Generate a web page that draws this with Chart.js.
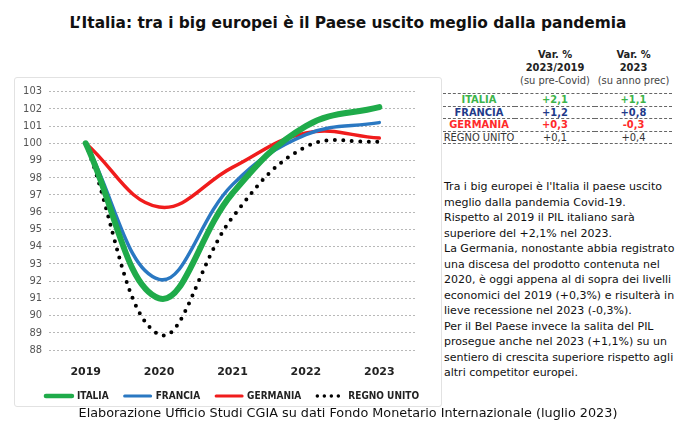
<!DOCTYPE html>
<html>
<head>
<meta charset="utf-8">
<script src="https://cdn.jsdelivr.net/npm/chart.js@4/dist/chart.umd.min.js"></script>
<style>
    html, body { margin: 0; padding: 0; background: #fff; }
    body { width: 696px; height: 446px; position: relative; overflow: hidden; font-family: "DejaVu Sans", sans-serif; }
    #title { position: absolute; left: 0; top: 14px; width: 696px; text-align: center; font-weight: bold; font-size: 15.4px; color: #111; }
    #chart-box { position: absolute; left: 14px; top: 77px; width: 428px; height: 330px; border: 1px solid #e2e2e2; border-radius: 3px; box-sizing: border-box; }
    #chart-box canvas { position: absolute; left: 0; top: 0; }
    #table { position: absolute; left: 443px; top: 48px; border-collapse: collapse; font-family: "DejaVu Sans Condensed", "DejaVu Sans", sans-serif; font-size: 11px; color: #222; }
    #table th { font-weight: bold; text-align: center; line-height: 13px; padding: 0 0 6px 0; }
    #table th span { font-weight: normal; color: #444; }
    #table td { text-align: center; padding: 0; line-height: 11.5px; border-bottom: 1px dashed #666; }
    #table tr.first td { border-top: 1px dashed #666; }
    #note { position: absolute; left: 444px; top: 179px; width: 252px; font-family: "DejaVu Sans", sans-serif; font-size: 11px; line-height: 15.5px; color: #111; white-space: nowrap; }
    #source { position: absolute; left: 0; top: 405px; width: 696px; text-align: center; font-size: 12.8px; color: #111; }
</style>
</head>
<body>
<div id="title">L’Italia: tra i big europei è il Paese uscito meglio dalla pandemia</div>
<div id="chart-box"><canvas id="gdpChart" width="428" height="333"></canvas></div>
<table id="table">
    <tr><th style="width:72px"></th><th style="width:80px">Var. %<br>2023/2019<br><span>(su pre-Covid)</span></th><th style="width:77px">Var. %<br>2023<br><span>(su anno prec)</span></th></tr>
    <tbody id="table-body"></tbody>
</table>
<div id="note">
Tra i big europei è l'Italia il paese uscito<br>
meglio dalla pandemia Covid-19.<br>
Rispetto al 2019 il PIL italiano sarà<br>
superiore del +2,1% nel 2023.<br>
La Germania, nonostante abbia registrato<br>
una discesa del prodotto contenuta nel<br>
2020, è oggi appena al di sopra dei livelli<br>
economici del 2019 (+0,3%) e risulterà in<br>
lieve recessione nel 2023 (-0,3%).<br>
Per il Bel Paese invece la salita del PIL<br>
prosegue anche nel 2023 (+1,1%) su un<br>
sentiero di crescita superiore rispetto agli<br>
altri competitor europei.
</div>
<div id="source">Elaborazione Ufficio Studi CGIA su dati Fondo Monetario Internazionale (luglio 2023)</div>

<script>
// Data (PIL, 2019 = 100)
const years = ['2019', '2020', '2021', '2022', '2023'];
const italia = [100, 91.0, 97.1, 101.0, 102.1];
const francia = [100, 92.1, 97.6, 100.5, 101.2];
const germania = [100, 96.3, 98.6, 100.6, 100.3];
const regnoUnito = [100, 88.9, 95.7, 99.8, 100.1];

// Side table
const countries = ['ITALIA', 'FRANCIA', 'GERMANIA', 'REGNO UNITO'];
const varPreCovid = ['+2,1', '+1,2', '+0,3', '+0,1'];
const varAnnoPrec = ['+1,1', '+0,8', '-0,3', '+0,4'];
const tableColors = ['#3cb44b', '#1f3a8a', '#ff2a2a', '#333'];

const tbody = document.getElementById('table-body');
tbody.innerHTML = countries.map((c, i) => `
    <tr class="${i === 0 ? 'first' : ''}" style="color:${tableColors[i]};font-weight:${i < 3 ? 'bold' : 'normal'}">
        <td>${c}</td><td>${varPreCovid[i]}</td><td>${varAnnoPrec[i]}</td>
    </tr>`).join('');

const legendWidths = [4.5, 3, 3, 3.5];
const defaultLabels = Chart.defaults.plugins.legend.labels.generateLabels;

const ctx = document.getElementById('gdpChart').getContext('2d');
new Chart(ctx, {
    type: 'line',
    data: {
        labels: years,
        datasets: [
            { label: 'ITALIA', data: italia, borderColor: '#1fab4a', backgroundColor: '#1fab4a', borderWidth: 6, borderCapStyle: 'round' },
            { label: 'FRANCIA', data: francia, borderColor: '#2a78c2', backgroundColor: '#2a78c2', borderWidth: 3.5, borderCapStyle: 'round' },
            { label: 'GERMANIA', data: germania, borderColor: '#f01c1c', backgroundColor: '#f01c1c', borderWidth: 3.5, borderCapStyle: 'round' },
            { label: 'REGNO UNITO', data: regnoUnito, borderColor: '#000', backgroundColor: '#000', borderWidth: 4, borderDash: [0, 8.5], borderCapStyle: 'round' }
        ]
    },
    options: {
        responsive: false,
        animation: false,
        elements: {
            point: { radius: 0 },
            line: { tension: 0.4 }
        },
        layout: { padding: { left: 0, right: 0, top: 6, bottom: 0 } },
        scales: {
            x: {
                offset: true,
                afterFit: s => { s.height = 25; },
                grid: { display: false, drawTicks: false },
                border: { display: false },
                ticks: { color: '#222', font: { family: 'DejaVu Sans', size: 11, weight: 'bold' }, padding: 16 }
            },
            y: {
                min: 88,
                max: 103,
                afterFit: s => { s.width = 34; },
                border: { display: false, dash: [2, 2] },
                grid: { color: '#b8b8b8', drawTicks: false },
                ticks: { stepSize: 1, autoSkip: false, color: '#555', font: { family: 'DejaVu Sans Condensed', size: 11 }, padding: 7 }
            },
            // empty right margin so the legend keeps the full width
            rightPad: {
                type: 'linear',
                position: 'right',
                afterFit: s => { s.width = 27; },
                grid: { display: false },
                border: { display: false },
                ticks: { display: false }
            }
        },
        plugins: {
            tooltip: { enabled: false },
            legend: {
                position: 'bottom',
                labels: {
                    usePointStyle: true,
                    pointStyle: 'line',
                    pointStyleWidth: 26,
                    boxWidth: 26,
                    padding: 16,
                    color: '#222',
                    font: { family: 'DejaVu Sans Condensed', size: 10, weight: 'bold' },
                    generateLabels: chart => defaultLabels(chart).map(item => {
                        const ds = chart.data.datasets[item.datasetIndex];
                        item.lineDash = ds.borderDash ? [0, 7] : [];
                        item.lineCap = 'round';
                        item.lineWidth = legendWidths[item.datasetIndex];
                        return item;
                    })
                }
            }
        }
    },
    plugins: [{
        // shift the legend so it is centred under the plot area
        id: 'legendUnderPlot',
        afterLayout(chart) {
            const lg = chart.legend;
            const shift = (chart.chartArea.left + chart.chartArea.right) / 2 - (lg.left + lg.right) / 2;
            lg.left += shift;
            lg.right += shift;
        }
    }]
});
</script>
</body>
</html>
